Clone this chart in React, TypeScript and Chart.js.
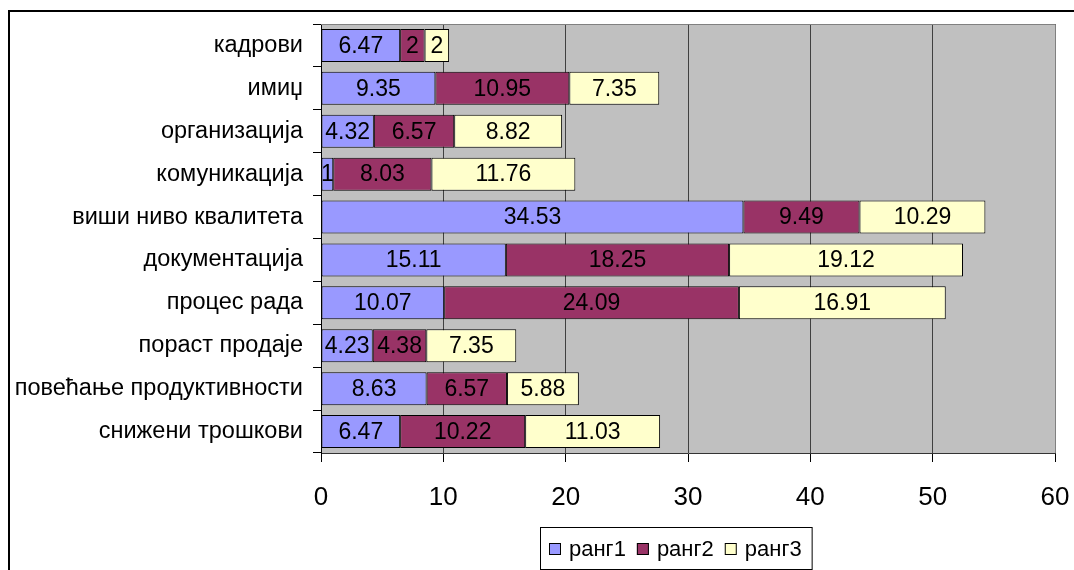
import React, { useEffect, useRef } from "react";
import { Chart, registerables } from "chart.js";

Chart.register(...registerables);

const categories = [
  "кадрови",
  "имиџ",
  "организација",
  "комуникација",
  "виши ниво квалитета",
  "документација",
  "процес рада",
  "пораст продаје",
  "повећање продуктивности",
  "снижени трошкови",
];

const seriesNames = ["ранг1", "ранг2", "ранг3"];
const rang1 = [6.47, 9.35, 4.32, 1, 34.53, 15.11, 10.07, 4.23, 8.63, 6.47];
const rang2 = [2, 10.95, 6.57, 8.03, 9.49, 18.25, 24.09, 4.38, 6.57, 10.22];
const rang3 = [2, 7.35, 8.82, 11.76, 10.29, 19.12, 16.91, 7.35, 5.88, 11.03];
const seriesColors = ["#9999FF", "#993366", "#FFFFCC"];
const xTicks = [0, 10, 20, 30, 40, 50, 60];

const FONT = "'Liberation Sans', Arial, sans-serif";

const framePlugin = {
  id: "frame",
  beforeDraw(chart: any) {
    const { ctx, chartArea } = chart;
    ctx.save();
    ctx.fillStyle = "#ffffff";
    ctx.fillRect(0, 0, chart.width, chart.height);
    ctx.fillStyle = "#C0C0C0";
    ctx.fillRect(chartArea.left, chartArea.top, chartArea.right - chartArea.left, chartArea.bottom - chartArea.top);
    ctx.restore();
  },
  afterDraw(chart: any) {
    const { ctx, chartArea } = chart;
    ctx.save();
    ctx.strokeStyle = "#808080";
    ctx.lineWidth = 1;
    ctx.beginPath();
    ctx.moveTo(chartArea.left, chartArea.top + 0.5);
    ctx.lineTo(chartArea.right + 0.5, chartArea.top + 0.5);
    ctx.lineTo(chartArea.right + 0.5, chartArea.bottom);
    ctx.stroke();
    ctx.fillStyle = "#000000";
    ctx.fillRect(8, 10, chart.width - 8, 2);
    ctx.fillRect(8, 10, 2, chart.height - 10);
    // legend
    ctx.font = `22px ${FONT}`;
    ctx.textBaseline = "middle";
    ctx.textAlign = "left";
    const boxL = 540, boxT = 527;
    let x = 549;
    const items: { x: number; w: number }[] = [];
    seriesNames.forEach((n) => {
      const w = ctx.measureText(n).width;
      items.push({ x, w });
      x += 12 + 8 + w + 11;
    });
    const boxR = x - 11 + 10;
    ctx.strokeStyle = "#000000";
    ctx.lineWidth = 1;
    ctx.strokeRect(boxL + 0.5, boxT + 0.5, boxR - boxL, 42);
    seriesNames.forEach((n, i) => {
      const it = items[i];
      ctx.fillStyle = seriesColors[i];
      ctx.fillRect(it.x, 543, 12, 12);
      ctx.strokeStyle = "#000";
      ctx.strokeRect(it.x + 0.5, 543.5, 11, 11);
      ctx.fillStyle = "#000";
      ctx.fillText(n, it.x + 12 + 8, 550);
    });
    ctx.restore();
  },
};

const labelPlugin = {
  id: "barLabels",
  afterDatasetsDraw(chart: any) {
    const { ctx } = chart;
    ctx.save();
    ctx.font = `23px ${FONT}`;
    ctx.fillStyle = "#000";
    ctx.textAlign = "center";
    ctx.textBaseline = "middle";
    chart.data.datasets.forEach((ds: any, di: number) => {
      const meta = chart.getDatasetMeta(di);
      meta.data.forEach((bar: any, i: number) => {
        const v = ds.data[i];
        const cx = (bar.x + bar.base) / 2;
        ctx.fillText(String(v), cx, bar.y + 1);
      });
    });
    ctx.restore();
  },
};

export default function App() {
  const ref = useRef<HTMLCanvasElement>(null);
  useEffect(() => {
    const chart = new Chart(ref.current!, {
      type: "bar",
      data: {
        labels: categories,
        datasets: [rang1, rang2, rang3].map((d, i) => ({
          label: seriesNames[i],
          data: d,
          backgroundColor: seriesColors[i],
          borderColor: "#000000",
          borderWidth: 1,
          borderSkipped: false,
          categoryPercentage: 1,
          barPercentage: 0.77,
        })),
      },
      options: {
        indexAxis: "y",
        animation: false,
        responsive: false,
        devicePixelRatio: 1,
        layout: { padding: { left: 0, top: 24, right: 19, bottom: 0 } },
        plugins: { legend: { display: false }, tooltip: { enabled: false } },
        scales: {
          x: {
            stacked: true,
            min: 0,
            max: 60,
            afterBuildTicks(scale: any) {
              scale.ticks = xTicks.map((v) => ({ value: v }));
            },
            afterFit(scale: any) {
              scale.height = 117;
              scale.paddingLeft = 0;
              scale.paddingRight = 0;
            },
            ticks: {
              font: { family: FONT, size: 26 },
              color: "#000",
              padding: 20,
              maxRotation: 0,
            },
            grid: {
              color: "#404040",
              lineWidth: 1,
              tickLength: 9,
              tickColor: "#000",
              drawOnChartArea: true,
            },
            border: { color: "#333", width: 1 },
          },
          y: {
            stacked: true,
            afterFit(scale: any) {
              scale.width = 321;
              scale.paddingTop = 0;
              scale.paddingBottom = 0;
            },
            ticks: {
              font: { family: FONT, size: 23.5 },
              color: "#000",
              padding: 10,
            },
            grid: {
              drawOnChartArea: false,
              tickLength: 8,
              tickColor: "#000",
              offset: true,
            },
            border: { color: "#000", width: 1 },
          },
        },
      },
      plugins: [framePlugin, labelPlugin],
    } as any);
    return () => chart.destroy();
  }, []);
  return (
    <div style={{ position: "fixed", left: 0, top: 0, width: 1074, height: 570, overflow: "hidden" }}>
      <canvas ref={ref} width={1074} height={570} style={{ display: "block" }} />
    </div>
  );
}
